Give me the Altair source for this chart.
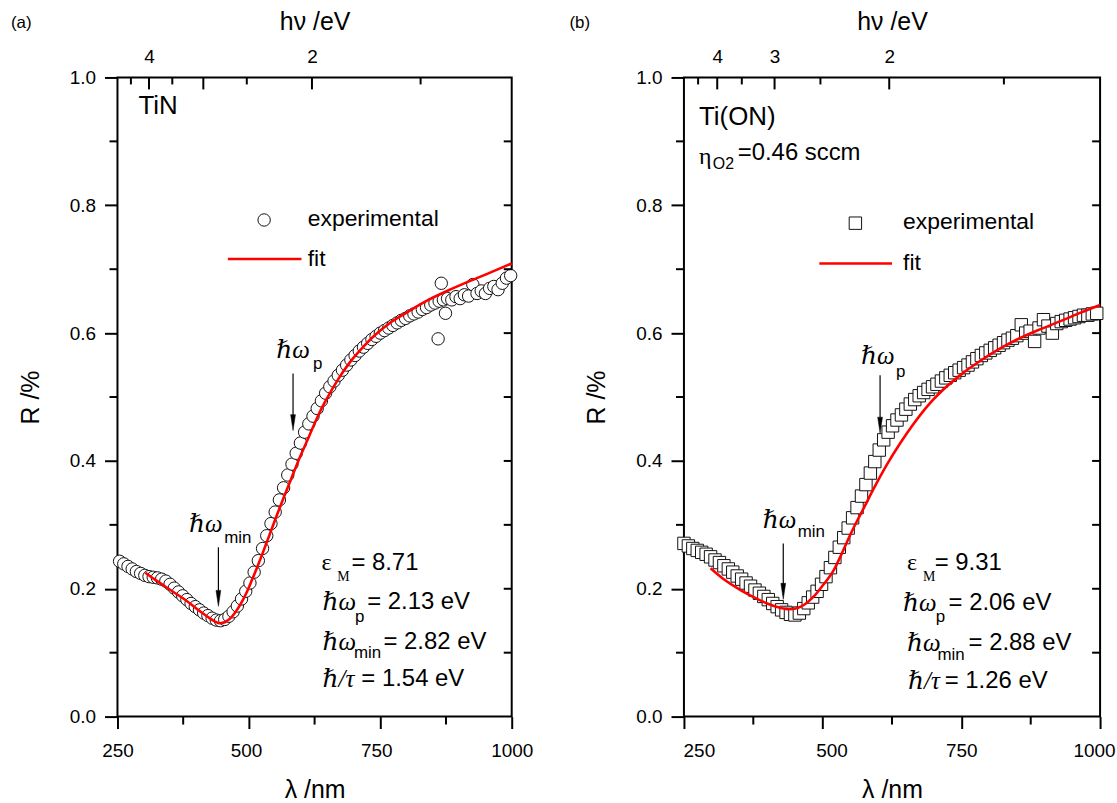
import altair as alt
import pandas as pd

# ---------------- data ----------------
# Panel (a) TiN : experimental reflectance (circles)
lam_a = [254, 262, 270, 278, 286, 294, 302, 310, 318, 326, 334, 342, 350, 358, 366, 374,
         382, 390, 398, 406, 414, 422, 430, 438, 446, 454, 462, 470, 478, 486, 494, 502,
         510, 518, 526, 534, 542, 550, 558, 566, 574, 582, 590, 598, 606, 614, 622, 630,
         638, 646, 654, 662, 670, 678, 686, 694, 702, 710, 718, 726, 734, 742, 750, 758,
         766, 774, 782, 790, 798, 806, 814, 822, 830, 838, 846, 854, 860, 862, 866, 870,
         874, 878, 886, 894, 902, 910, 918, 926, 934, 942, 950, 958, 966, 974, 982, 990, 998]
R_a = [0.243, 0.239, 0.235, 0.231, 0.227, 0.224, 0.221, 0.219, 0.218, 0.217, 0.215, 0.212,
       0.207, 0.201, 0.195, 0.189, 0.183, 0.177, 0.172, 0.167, 0.162, 0.158, 0.154, 0.151,
       0.150, 0.152, 0.157, 0.164, 0.173, 0.184, 0.196, 0.209, 0.226, 0.244, 0.263, 0.283,
       0.302, 0.320, 0.339, 0.358, 0.378, 0.395, 0.412, 0.428, 0.445, 0.458, 0.470, 0.482,
       0.494, 0.506, 0.516, 0.525, 0.534, 0.542, 0.550, 0.558, 0.565, 0.572, 0.578, 0.584,
       0.590, 0.595, 0.600, 0.604, 0.608, 0.612, 0.616, 0.620, 0.623, 0.627, 0.630, 0.633,
       0.637, 0.640, 0.644, 0.647, 0.591, 0.650, 0.678, 0.652, 0.631, 0.654, 0.652, 0.657,
       0.654, 0.660, 0.658, 0.676, 0.662, 0.666, 0.662, 0.670, 0.673, 0.668, 0.678, 0.686, 0.690]
# Panel (a) fit
fit_lam_a = [303, 320, 340, 360, 380, 400, 420, 435, 445, 455, 465, 475, 485, 495, 505, 515,
             525, 535, 545, 555, 565, 580, 595, 610, 622, 634, 650, 670, 691, 715, 740, 767,
             800, 837, 880, 919, 960, 1000]
fit_R_a = [0.225, 0.215, 0.204, 0.193, 0.182, 0.169, 0.157, 0.149, 0.146, 0.148, 0.154, 0.164,
           0.177, 0.193, 0.212, 0.232, 0.253, 0.275, 0.297, 0.319, 0.340, 0.371, 0.402, 0.430,
           0.453, 0.475, 0.500, 0.528, 0.553, 0.576, 0.597, 0.615, 0.632, 0.650, 0.667, 0.681,
           0.695, 0.709]

# Panel (b) Ti(ON) : experimental reflectance (squares)
lam_b = [250, 258, 266, 274, 282, 290, 298, 306, 314, 322, 330, 338, 346, 354, 362, 370,
         378, 386, 394, 402, 410, 418, 426, 434, 442, 450, 458, 466, 474, 482, 490, 498,
         506, 514, 522, 530, 538, 546, 554, 562, 570, 578, 586, 594, 602, 610, 618, 626,
         634, 642, 650, 658, 666, 674, 682, 690, 698, 706, 714, 722, 730, 738, 746, 754,
         762, 770, 778, 786, 794, 802, 810, 818, 826, 834, 842, 850, 858, 866, 874, 882,
         890, 898, 906, 914, 922, 930, 938, 946, 954, 962, 970, 978, 986, 994]
R_b = [0.271, 0.267, 0.263, 0.260, 0.257, 0.254, 0.250, 0.245, 0.241, 0.236, 0.231, 0.226,
       0.220, 0.215, 0.209, 0.204, 0.198, 0.193, 0.188, 0.183, 0.177, 0.172, 0.167, 0.163,
       0.160, 0.159, 0.162, 0.169, 0.178, 0.187, 0.196, 0.207, 0.219, 0.233, 0.249, 0.265,
       0.280, 0.295, 0.311, 0.327, 0.345, 0.363, 0.381, 0.399, 0.417, 0.433, 0.445, 0.455,
       0.464, 0.472, 0.481, 0.489, 0.496, 0.502, 0.507, 0.512, 0.516, 0.520, 0.525, 0.530,
       0.534, 0.538, 0.542, 0.546, 0.550, 0.555, 0.560, 0.565, 0.569, 0.573, 0.577, 0.581,
       0.585, 0.589, 0.592, 0.596, 0.613, 0.600, 0.603, 0.587, 0.608, 0.621, 0.611, 0.600,
       0.615, 0.618, 0.620, 0.622, 0.624, 0.626, 0.628, 0.628, 0.630, 0.631]
# Panel (b) fit
fit_lam_b = [298, 320, 352, 380, 400, 420, 439, 455, 470, 484, 500, 520, 535, 550, 562, 574,
             591, 615, 640, 663, 690, 723, 755, 783, 820, 855, 895, 932, 965, 1000]
fit_R_b = [0.232, 0.216, 0.198, 0.185, 0.177, 0.171, 0.168, 0.170, 0.177, 0.188, 0.205, 0.229,
           0.256, 0.285, 0.306, 0.326, 0.355, 0.393, 0.428, 0.457, 0.487, 0.516, 0.539, 0.556,
           0.576, 0.592, 0.607, 0.620, 0.632, 0.644]

# axis ticks
x_major = [250, 500, 750, 1000]
x_minor = [375, 625, 875]
y_major = [0.0, 0.2, 0.4, 0.6, 0.8, 1.0]
y_minor = [0.1, 0.3, 0.5, 0.7, 0.9]
y_right = [0.1, 0.2, 0.3, 0.4, 0.5, 0.6, 0.7, 0.8, 0.9]
eV_major = [4, 3, 2]
eV_minor = [4.5, 3.5, 2.5, 1.5]
eV_labels_a = [4, 2]
eV_labels_b = [4, 3, 2]

# ---------------- styling ----------------
SANS = "Liberation Sans, Arial, sans-serif"
SERIF = "Liberation Serif, DejaVu Serif, serif"
H = 642

sx = alt.Scale(domain=[250, 1000], nice=False, zero=False)
sy = alt.Scale(domain=[0, 1], nice=False, zero=False)


def X(f, axis=None):
    return alt.X(f, type="quantitative", scale=sx, axis=axis)


def Y(f, axis=None):
    return alt.Y(f, type="quantitative", scale=sy, axis=axis)


def txt(x, y, s, size=24, font=SANS, style="normal"):
    return alt.Chart(pd.DataFrame({"x": [x], "y": [y], "t": [s]})).mark_text(
        align="left", baseline="middle", fontSize=size, font=font, fontStyle=style, color="black"
    ).encode(x=X("x"), y=Y("y"), text="t:N")


def arrow(x, y0, y1, yh):
    shaft = alt.Chart(pd.DataFrame({"x": [x], "y": [y0], "y2": [y1]})).mark_rule(
        color="black", strokeWidth=1.2
    ).encode(x=X("x"), y=Y("y"), y2="y2:Q")
    head = alt.Chart(pd.DataFrame({"x": [x], "y": [yh]})).mark_point(
        shape="M-0.3,-1L0.3,-1L0,1Z", filled=True, fill="black", stroke="black",
        strokeWidth=0.5, size=256, opacity=1
    ).encode(x=X("x"), y=Y("y"))
    return [shaft, head]


def panel(W, lam, R, shape, flam, fR, eV_lab, leg, ann, tag, tag_dx, label_offset):
    bottom_axis = alt.Axis(
        orient="bottom", values=x_major, format="d", tickSize=12, tickWidth=2, tickColor="black",
        domain=False, grid=False, labelFont=SANS, labelFontSize=19, labelColor="black",
        labelPadding=13, labelFlush=False, labelOverlap=False, labelOffset=label_offset,
        title="λ /nm", titleFont=SANS,
        titleFontSize=25, titleFontWeight="normal", titleColor="black", titlePadding=17)
    left_axis = alt.Axis(
        orient="left", values=y_major, format=".1f", tickSize=13, tickWidth=2, tickColor="black",
        domain=False, grid=False, labelFont=SANS, labelFontSize=19, labelColor="black",
        labelPadding=9, title="R /%", titleFont=SANS, titleFontSize=25,
        titleFontWeight="normal", titleColor="black", titlePadding=26)
    top_axis = alt.Axis(
        orient="top", values=[1240 / e for e in eV_lab],
        labelExpr="format(1240/datum.value, 'd')", ticks=False, tickSize=0, domain=False,
        grid=False, labelFont=SANS, labelFontSize=19, labelColor="black", labelPadding=11,
        labelFlush=False, labelOverlap=False, title="hν /eV", titleFont=SANS, titleFontSize=25,
        titleFontWeight="normal", titleColor="black", titlePadding=13)

    pts = alt.Chart(pd.DataFrame({"lam": lam, "R": R})).mark_point(
        shape=shape, filled=True, fill="white", stroke="#111111", strokeWidth=1, size=155, opacity=1
    ).encode(x=X("lam", bottom_axis), y=Y("R", left_axis))

    top_maj = alt.Chart(pd.DataFrame({"E": eV_major})).transform_calculate(
        lam="1240/datum.E").mark_rule(color="black", strokeWidth=2).encode(
        x=X("lam", top_axis), y=alt.value(0), y2=alt.value(12))
    top_min = alt.Chart(pd.DataFrame({"E": eV_minor})).transform_calculate(
        lam="1240/datum.E").mark_rule(color="black", strokeWidth=2).encode(
        x=X("lam"), y=alt.value(0), y2=alt.value(7))
    bot_min = alt.Chart(pd.DataFrame({"v": x_minor})).mark_rule(color="black", strokeWidth=2).encode(
        x=X("v"), y=alt.value(H), y2=alt.value(H + 8))
    left_min = alt.Chart(pd.DataFrame({"v": y_minor})).mark_rule(color="black", strokeWidth=2).encode(
        y=Y("v"), x=alt.value(-8), x2=alt.value(0))
    right_t = alt.Chart(pd.DataFrame({"v": y_right})).mark_rule(color="black", strokeWidth=2).encode(
        y=Y("v"), x=alt.value(W - 8), x2=alt.value(W))

    fit = alt.Chart(pd.DataFrame({"lam": flam, "R": fR})).mark_line(
        color="#ff0000", strokeWidth=2.6, interpolate="monotone"
    ).encode(x=X("lam"), y=Y("R"))

    (mx, my, tx, ty, lx0, lx1, ly) = leg
    leg_pt = alt.Chart(pd.DataFrame({"x": [mx], "y": [my]})).mark_point(
        shape=shape, filled=True, fill="white", stroke="#111111", strokeWidth=1, size=155, opacity=1
    ).encode(x=X("x"), y=Y("y"))
    leg_line = alt.Chart(pd.DataFrame({"x": [lx0], "x2": [lx1], "y": [ly]})).mark_rule(
        color="#ff0000", strokeWidth=2.6).encode(x=X("x"), x2="x2:Q", y=Y("y"))
    leg_t1 = txt(tx, ty, "experimental", 23)
    leg_t2 = txt(tx, ly, "fit", 23)

    tag_l = alt.Chart(pd.DataFrame({"t": [tag]})).mark_text(
        align="left", baseline="middle", fontSize=17, font=SANS, color="black"
    ).encode(x=alt.value(tag_dx), y=alt.value(-55), text="t:N")

    layers = [pts, top_maj, top_min, bot_min, left_min, right_t, fit,
              leg_pt, leg_line, leg_t1, leg_t2, tag_l] + ann
    return alt.layer(*layers).resolve_axis(x="independent", y="independent").properties(
        width=W, height=H)


# ---------------- annotations ----------------
ann_a = [
    txt(290, 0.956, "TiN", 26),
    txt(552, 0.573, "ℏω", 25, SERIF, "italic"),
    txt(622, 0.551, "p", 17),
    *arrow(584, 0.537, 0.47, 0.46),
    txt(386, 0.301, "ℏω", 25, SERIF, "italic"),
    txt(453, 0.279, "min", 17),
    *arrow(442, 0.265, 0.195, 0.185),
    txt(638, 0.240, "ε", 24, SERIF),
    txt(668, 0.218, "M", 14, SERIF),
    txt(695, 0.240, "= 8.71", 24),
    txt(640, 0.179, "ℏω", 25, SERIF, "italic"),
    txt(702, 0.156, "p", 17),
    txt(725, 0.179, "= 2.13 eV", 24),
    txt(640, 0.117, "ℏω", 25, SERIF, "italic"),
    txt(700, 0.100, "min", 17),
    txt(756, 0.117, "= 2.82 eV", 24),
    txt(640, 0.058, "ℏ/τ", 25, SERIF, "italic"),
    txt(714, 0.058, "= 1.54 eV", 24),
]
ann_b = [
    txt(277, 0.938, "Ti(ON)", 26),
    txt(277, 0.876, "η", 24, SERIF),
    txt(302, 0.864, "O2", 16),
    txt(347, 0.882, "=0.46 sccm", 24),
    txt(569, 0.564, "ℏω", 25, SERIF, "italic"),
    txt(632, 0.539, "p", 17),
    *arrow(603.5, 0.534, 0.468, 0.456),
    txt(392, 0.308, "ℏω", 25, SERIF, "italic"),
    txt(455, 0.288, "min", 17),
    *arrow(429, 0.271, 0.207, 0.196),
    txt(652, 0.240, "ε", 24, SERIF),
    txt(681, 0.218, "M", 14, SERIF),
    txt(702, 0.240, "= 9.31", 24),
    txt(645, 0.178, "ℏω", 25, SERIF, "italic"),
    txt(704, 0.156, "p", 17),
    txt(727, 0.178, "= 2.06 eV", 24),
    txt(652, 0.115, "ℏω", 25, SERIF, "italic"),
    txt(707, 0.097, "min", 17),
    txt(763, 0.115, "= 2.88 eV", 24),
    txt(654, 0.055, "ℏ/τ", 25, SERIF, "italic"),
    txt(720, 0.055, "= 1.26 eV", 24),
]

leg_a = (529, 0.777, 612, 0.779, 460, 600, 0.716)
leg_b = (559, 0.772, 645, 0.774, 494, 625, 0.709)

offset_a = {"condition": [{"test": "datum.value == 500", "value": -3},
                          {"test": "datum.value == 750", "value": -4}], "value": 0}
offset_b = {"condition": [{"test": "datum.value == 250", "value": 15},
                          {"test": "datum.value == 500", "value": 9},
                          {"test": "datum.value == 1000", "value": -6}], "value": 0}

pa = panel(396, lam_a, R_a, "circle", fit_lam_a, fit_R_a, eV_labels_a, leg_a,
           ann_a, "(a)", -107, offset_a)
pb = panel(418, lam_b, R_b, "square", fit_lam_b, fit_R_b, eV_labels_b, leg_b,
           ann_b, "(b)", -115, offset_b)

chart = alt.hconcat(pa, pb, spacing=34).properties(
    padding={"left": 10, "top": 7, "right": 0, "bottom": 0},
    background="white",
).configure_view(stroke="black", strokeWidth=2)

chart.save("out.html", embed_options={"renderer": "svg", "actions": False})
